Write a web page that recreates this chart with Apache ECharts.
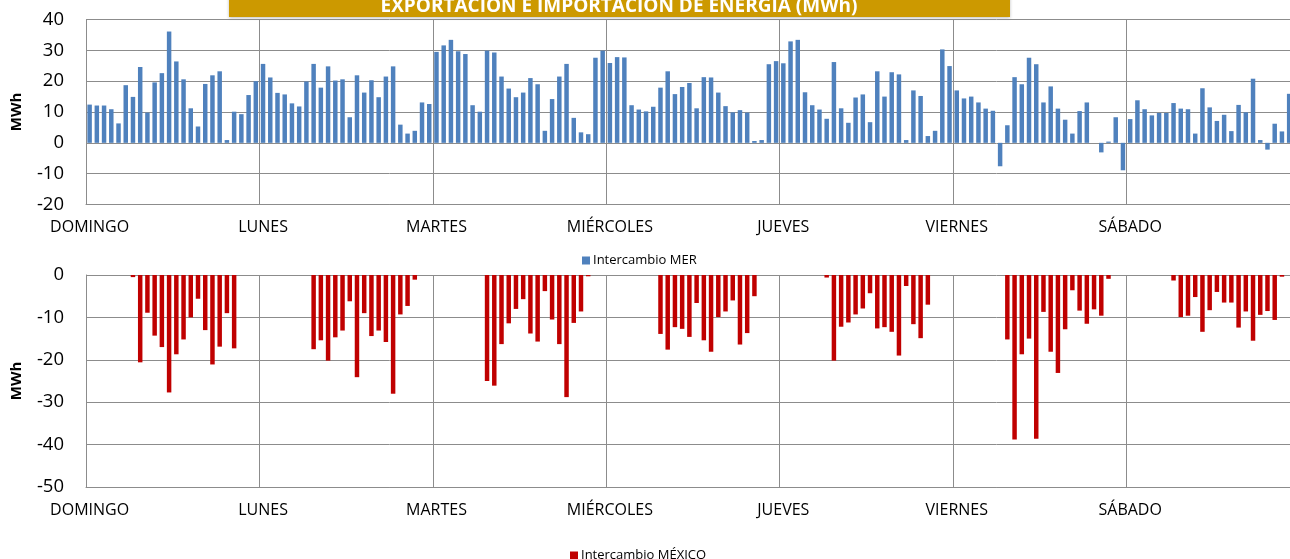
<!DOCTYPE html>
<html>
<head>
<meta charset="utf-8">
<script src="https://cdn.jsdelivr.net/npm/echarts@6/dist/echarts.min.js"></script>
<style>
html,body{margin:0;padding:0;background:#fff;overflow:hidden;}
#chart{width:1312px;height:559px;}
</style>
</head>
<body>
<div id="chart"></div>
<script>
// ---- data ----
const days = ['DOMINGO', 'LUNES', 'MARTES', 'MIÉRCOLES', 'JUEVES', 'VIERNES', 'SÁBADO'];
const hoursPerDay = 24;

const merDomingo = [12.4, 12.1, 12.1, 10.9, 6.3, 18.7, 14.9, 24.6, 9.8, 19.6, 22.6, 36.1, 26.4, 20.6, 11.2, 5.3, 19.1, 21.9, 23.2, 0.9, 10.1, 9.3, 15.5, 20.0];
const merLunes = [25.6, 21.2, 16.2, 15.7, 12.8, 11.8, 19.9, 25.6, 17.9, 24.8, 20.2, 20.6, 8.3, 21.9, 16.3, 20.3, 14.8, 21.5, 24.8, 5.9, 3.0, 3.9, 13.1, 12.6];
const merMartes = [29.5, 31.6, 33.4, 29.7, 28.8, 12.2, 10.1, 29.9, 29.3, 21.5, 17.6, 14.8, 16.3, 21.0, 19.0, 3.9, 14.2, 21.5, 25.6, 8.1, 3.4, 2.8, 27.6, 29.9];
const merMiercoles = [25.9, 27.8, 27.7, 12.2, 10.8, 10.2, 11.7, 17.9, 23.2, 15.8, 18.1, 19.4, 11.2, 21.3, 21.2, 16.3, 11.9, 9.9, 10.6, 9.8, 0.6, 0.9, 25.5, 26.5];
const merJueves = [25.8, 32.9, 33.4, 16.4, 12.2, 10.8, 7.8, 26.2, 11.2, 6.5, 14.7, 15.7, 6.7, 23.2, 15.0, 22.9, 22.2, 0.9, 17.0, 15.2, 2.2, 3.9, 30.3, 24.9];
const merViernes = [17.0, 14.4, 15.0, 13.1, 11.1, 10.4, -7.6, 5.7, 21.3, 19.0, 27.6, 25.5, 13.1, 18.3, 11.1, 7.5, 3.0, 10.3, 13.1, 0, -3.1, 0.4, 8.3, -8.9];
const merSabado = [7.7, 13.8, 10.9, 8.9, 9.7, 9.7, 12.9, 11.1, 10.9, 3.0, 17.7, 11.5, 7.1, 9.1, 3.8, 12.3, 9.9, 20.8, 0.9, -2.2, 6.2, 3.7, 15.9, 14.0];

const mexDomingo = [0, 0, 0, 0, 0, 0, -0.5, -20.6, -8.9, -14.3, -17.0, -27.7, -18.7, -15.2, -10.0, -5.6, -13.0, -21.1, -16.9, -9.0, -17.3, 0, 0, 0];
const mexLunes = [0, 0, 0, 0, 0, 0, 0, -17.5, -15.4, -20.2, -14.7, -13.1, -6.2, -24.1, -9.0, -14.4, -13.1, -15.8, -28.0, -9.3, -7.3, -1.1, 0, 0];
const mexMartes = [0, 0, 0, 0, 0, 0, 0, -25.0, -26.1, -16.3, -11.4, -8.0, -5.7, -13.8, -15.7, -3.8, -10.5, -16.3, -28.8, -11.3, -8.6, -0.3, 0, 0];
const mexMiercoles = [0, 0, 0, 0, 0, 0, 0, -13.9, -17.6, -12.3, -12.7, -14.6, -6.6, -15.4, -18.1, -9.9, -8.6, -6.0, -16.4, -13.7, -5.0, 0, 0, 0];
const mexJueves = [0, 0, 0, 0, 0, 0, -0.6, -20.2, -12.2, -11.2, -9.3, -7.9, -4.3, -12.6, -12.3, -13.4, -19.0, -2.6, -11.6, -14.9, -7.0, 0, 0, 0];
const mexViernes = [0, 0, 0, 0, 0, 0, 0, -15.2, -38.8, -18.7, -15.0, -38.6, -8.7, -18.1, -23.1, -12.8, -3.6, -8.4, -11.5, -8.1, -9.6, -0.9, 0, 0];
const mexSabado = [0, 0, 0, 0, 0, 0, -1.3, -9.9, -9.6, -5.2, -13.4, -8.3, -4.0, -6.5, -6.5, -12.4, -8.6, -15.5, -9.4, -8.5, -10.6, -0.4, 0, 0];

const merTicks = { min: -20, max: 40, interval: 10 };
const mexTicks = { min: -50, max: 0, interval: 10 };

const titleText = 'EXPORTACIÓN E IMPORTACIÓN DE ENERGÍA (MWh)';
const merName = 'Intercambio MER';
const mexName = 'Intercambio MÉXICO';
const yName = 'MWh';

// ---- build ----
const categories = [];
days.forEach(d => { for (let h = 1; h <= hoursPerDay; h++) categories.push(d + '|' + h); });
const merValues = [].concat(merDomingo, merLunes, merMartes, merMiercoles, merJueves, merViernes, merSabado);
const mexValues = [].concat(mexDomingo, mexLunes, mexMartes, mexMiercoles, mexJueves, mexViernes, mexSabado);

const FONT = 'Open Sans';
const GRID_COLOR = '#8c8c8c';
const dayStart = (i) => i % hoursPerDay === 0;

function xAxisFor(gridIndex) {
  return {
    type: 'category', gridIndex, data: categories, boundaryGap: true,
    position: 'bottom',
    axisLine: { show: true, onZero: false, lineStyle: { color: GRID_COLOR, width: 1 } },
    axisTick: { show: false },
    axisLabel: {
      interval: (i) => dayStart(i), margin: 15,
      formatter: (v) => v.split('|')[0],
      color: '#000', fontFamily: FONT, fontSize: 16
    },
    splitLine: { show: true, interval: (i) => dayStart(i), lineStyle: { color: GRID_COLOR, width: 1 } }
  };
}
function yAxisFor(gridIndex, t) {
  return {
    type: 'value', gridIndex, min: t.min, max: t.max, interval: t.interval,
    name: yName, nameLocation: 'middle', nameGap: 62, nameRotate: 90,
    nameTextStyle: { fontFamily: FONT, fontWeight: 'bold', fontSize: 15, color: '#000' },
    axisLine: { show: true, lineStyle: { color: GRID_COLOR, width: 1 } },
    axisTick: { show: false },
    axisLabel: { color: '#000', fontFamily: FONT, fontSize: 18.5, margin: 22 },
    splitLine: { show: true, lineStyle: { color: GRID_COLOR, width: 1 } }
  };
}

const chart = echarts.init(document.getElementById('chart'), null, { renderer: 'canvas' });
chart.setOption({
  animation: false,
  backgroundColor: '#fff',
  grid: [
    { left: 86, top: 19.5, width: 1214, height: 185 },
    { left: 86, top: 275, width: 1214, height: 212 }
  ],
  xAxis: [xAxisFor(0), xAxisFor(1)],
  yAxis: [yAxisFor(0, merTicks), yAxisFor(1, mexTicks)],
  legend: [
    { data: [merName], left: 577, top: 249, icon: 'rect', itemWidth: 8, itemHeight: 8, itemGap: 4,
      textStyle: { fontFamily: FONT, fontSize: 13, color: '#000', padding: [0, 0, 0, -2] } },
    { data: [mexName], left: 565, top: 544, icon: 'rect', itemWidth: 8, itemHeight: 8, itemGap: 4,
      textStyle: { fontFamily: FONT, fontSize: 13, color: '#000', padding: [0, 0, 0, -2] } }
  ],
  graphic: [
    { type: 'rect', shape: { x: 229, y: -6, width: 781, height: 23 },
      style: { fill: '#CC9900', shadowBlur: 3, shadowColor: 'rgba(0,0,0,0.25)', shadowOffsetY: 1 } },
    { type: 'text', x: 619, y: 7,
      style: { text: titleText, fill: '#fff', font: 'bold 19px "Open Sans"', align: 'center', verticalAlign: 'middle' } }
  ],
  series: [
    { name: merName, type: 'bar', xAxisIndex: 0, yAxisIndex: 0, data: merValues,
      barCategoryGap: '38%', itemStyle: { color: '#4F81BD' } },
    { name: mexName, type: 'bar', xAxisIndex: 1, yAxisIndex: 1, data: mexValues,
      barCategoryGap: '38%', itemStyle: { color: '#C00000' } }
  ]
});
</script>
</body>
</html>
